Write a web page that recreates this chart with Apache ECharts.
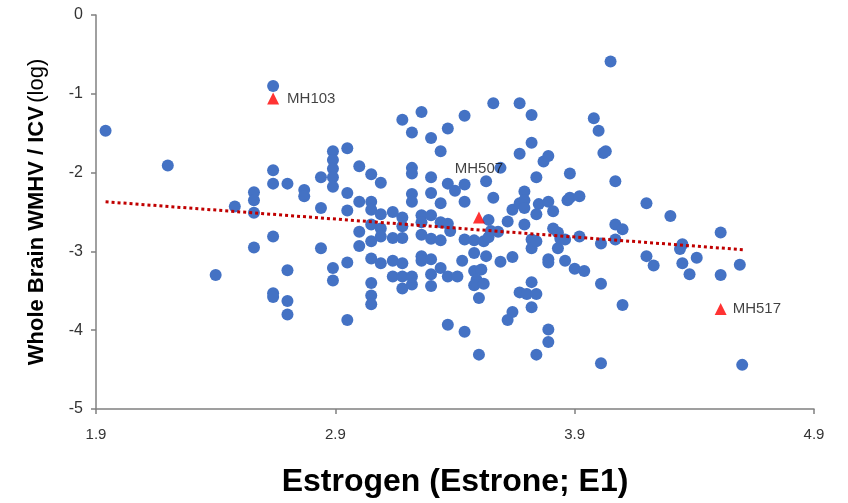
<!DOCTYPE html>
<html>
<head>
<meta charset="utf-8">
<script src="https://cdn.jsdelivr.net/npm/echarts@6/dist/echarts.min.js"></script>
<style>
  html, body { margin: 0; padding: 0; background: #fff; }
  #chart { width: 848px; height: 503px; }
</style>
</head>
<body>
<div id="chart"></div>
<script>
// Estrone (E1) vs whole brain WMHV/ICV (log)
const estrogen = [
  1.94, 2.20, 2.64, 2.64, 2.64, 2.70, 2.56, 2.56, 2.48, 2.56, 2.64, 2.56, 2.70, 2.40, 2.64, 2.64, 2.70, 2.70,
  2.77, 2.77, 2.84, 2.84, 2.84, 2.89, 2.89, 2.89, 2.89, 2.89, 2.89, 2.89,
  2.95, 2.95, 2.95, 2.95, 2.95, 3.00, 3.00, 3.00, 3.00,
  3.05, 3.05, 3.05, 3.05, 3.05, 3.05, 3.05, 3.05, 3.05,
  3.09, 3.09, 3.09, 3.09, 3.09, 3.14, 3.14, 3.14, 3.14,
  3.18, 3.18, 3.18, 3.18, 3.18, 3.18, 3.18, 3.22,
  3.22, 3.22, 3.22, 3.22, 3.22, 3.22,
  3.26, 3.26, 3.26, 3.26, 3.26, 3.26,
  3.30, 3.30, 3.30, 3.30, 3.30, 3.30, 3.30, 3.30,
  3.34, 3.34, 3.34, 3.34, 3.34, 3.37, 3.38, 3.37, 3.37, 3.40, 3.37, 3.41, 3.37,
  3.43, 3.44, 3.44, 3.44, 3.44, 3.44,
  3.48, 3.48, 3.48, 3.51, 3.49, 3.48, 3.52, 3.50, 3.50,
  3.53, 3.54, 3.52, 3.54, 3.53, 3.55, 3.58, 3.56, 3.59, 3.56, 3.59,
  3.62, 3.62, 3.64, 3.64, 3.64, 3.67, 3.67, 3.67, 3.67, 3.70,
  3.69, 3.69, 3.69, 3.69, 3.72, 3.72, 3.72, 3.72, 3.72, 3.72,
  3.74, 3.75, 3.74, 3.74, 3.74, 3.74, 3.77, 3.79, 3.79, 3.81, 3.81,
  3.79, 3.79, 3.79, 3.79, 3.83, 3.84, 3.83, 3.86, 3.86, 3.87, 3.88, 3.88,
  3.90, 3.92, 3.92, 3.94, 3.98, 4.00, 4.02, 4.03, 4.05, 4.07, 4.07, 4.07,
  4.01, 4.01, 4.01, 4.10, 4.10, 4.20, 4.20, 4.23, 4.30, 4.35, 4.34, 4.35,
  4.38, 4.41, 4.51, 4.51, 4.59, 4.60
]
const wmhv = [
  -1.47, -1.91, -0.90, -1.97, -2.14, -2.14, -2.25, -2.35, -2.43, -2.51, -2.81, -2.95, -3.24, -3.30, -3.53, -3.58, -3.63, -3.80,
  -2.22, -2.30, -2.06, -2.45, -2.96, -1.73, -1.84, -1.95, -2.06, -2.18, -3.21, -3.37,
  -1.69, -2.26, -2.48, -3.14, -3.87, -1.92, -2.37, -2.75, -2.93,
  -2.02, -2.37, -2.47, -2.66, -2.87, -3.09, -3.40, -3.56, -3.67,
  -2.13, -2.53, -2.71, -2.81, -3.15, -2.50, -2.83, -3.12, -3.32,
  -1.33, -2.57, -2.68, -2.83, -3.15, -3.32, -3.47, -3.42,
  -1.49, -1.94, -2.01, -2.27, -2.37, -3.32,
  -1.23, -2.54, -2.63, -2.79, -3.06, -3.12,
  -1.56, -2.06, -2.26, -2.54, -2.84, -3.10, -3.29, -3.44,
  -2.63, -1.73, -2.39, -2.86, -3.21, -2.65, -2.74, -1.44, -2.14, -2.23, -3.32, -3.32, -3.93,
  -3.12, -1.28, -2.15, -2.37, -2.85, -4.02,
  -2.86, -3.02, -3.25, -3.23, -3.36, -3.43, -3.41, -3.59, -4.31,
  -2.11, -2.60, -2.87, -2.82, -3.06, -2.74, -2.75, -1.12, -1.94, -2.32, -3.13,
  -2.62, -3.87, -2.47, -3.07, -3.77, -1.12, -1.76, -2.39, -3.52, -3.54,
  -2.24, -2.35, -2.45, -2.66, -1.27, -1.62, -2.85, -2.96, -3.39, -3.71,
  -2.06, -2.40, -2.53, -2.87, -3.54, -4.31, -1.86, -1.79, -2.37, -2.49, -2.71,
  -3.10, -3.14, -3.99, -4.15, -2.76, -2.84, -2.96, -2.85, -3.12, -2.35, -2.01, -2.32,
  -3.22, -2.30, -2.81, -3.25, -1.31, -1.47, -1.75, -1.73, -0.59, -2.11, -2.66, -2.85,
  -2.90, -3.41, -4.42, -2.72, -3.68, -2.39, -3.06, -3.18, -2.55, -2.91, -2.97, -3.15,
  -3.29, -3.08, -2.76, -3.30, -3.17, -4.44
]

// highlighted subjects
const caseNames = ["MH103", "MH507", "MH517"]
const caseX = [2.64, 3.50, 4.51]
const caseY = [-1.06, -2.57, -3.73]

// linear trend end points
const trendX = [1.94, 4.61]
const trendY = [-2.37, -2.98]

const xTicks = [1.9, 2.9, 3.9, 4.9]

const chart = echarts.init(document.getElementById("chart"), null, { renderer: "canvas" })

const labelPos = {
  MH103: { position: "right", distance: 8 },
  MH507: { position: "top", distance: 35 },
  MH517: { position: "right", distance: 6 }
}

chart.setOption({
  animation: false,
  backgroundColor: "#fff",
  grid: { left: 96, right: 34, top: 15, bottom: 90, containLabel: false },
  xAxis: {
    type: "value",
    min: 1.9,
    max: 4.9,
    name: "Estrogen (Estrone; E1)",
    nameLocation: "middle",
    nameGap: 57,
    nameTextStyle: { fontFamily: "Liberation Sans", fontWeight: "bold", fontSize: 32, color: "#000" },
    splitLine: { show: false },
    axisLine: { onZero: false, lineStyle: { color: "#808080", width: 1.5 } },
    axisTick: { show: true, length: 5, customValues: xTicks, lineStyle: { color: "#808080", width: 1.5 } },
    axisLabel: {
      customValues: xTicks,
      formatter: (v) => v.toFixed(1),
      fontFamily: "Liberation Sans", fontSize: 15, color: "#333", margin: 18
    }
  },
  yAxis: {
    type: "value",
    min: -5,
    max: 0,
    interval: 1,
    name: "{b|Whole Brain WMHV / ICV} {n|(log)}",
    nameLocation: "middle",
    nameGap: 48,
    nameTextStyle: {
      rich: {
        b: { fontFamily: "Liberation Sans", fontWeight: "bold", fontSize: 22, color: "#000" },
        n: { fontFamily: "Liberation Sans", fontSize: 22, color: "#000" }
      }
    },
    splitLine: { show: false },
    axisLine: { show: true, onZero: false, lineStyle: { color: "#808080", width: 1.5 } },
    axisTick: { show: true, length: 5, lineStyle: { color: "#808080", width: 1.5 } },
    axisLabel: { fontFamily: "Liberation Sans", fontSize: 16, color: "#333", margin: 13 }
  },
  series: [
    {
      type: "scatter",
      data: estrogen.map((x, i) => [x, wmhv[i]]),
      symbolSize: 12,
      itemStyle: { color: "#4472C4", opacity: 1 },
      z: 2
    },
    {
      type: "line",
      data: trendX.map((x, i) => [x, trendY[i]]),
      symbol: "none",
      lineStyle: { color: "#C00000", width: 3, type: [3, 3] },
      z: 3
    },
    {
      type: "scatter",
      symbol: "triangle",
      symbolSize: 12,
      itemStyle: { color: "#FF0000" },
      data: caseNames.map((n, i) => ({
        name: n,
        value: [caseX[i], caseY[i]],
        label: Object.assign({ show: true, formatter: "{b}", fontFamily: "Liberation Sans", fontSize: 15, color: "#111" }, labelPos[n])
      })),
      z: 4
    }
  ]
})
</script>
</body>
</html>
